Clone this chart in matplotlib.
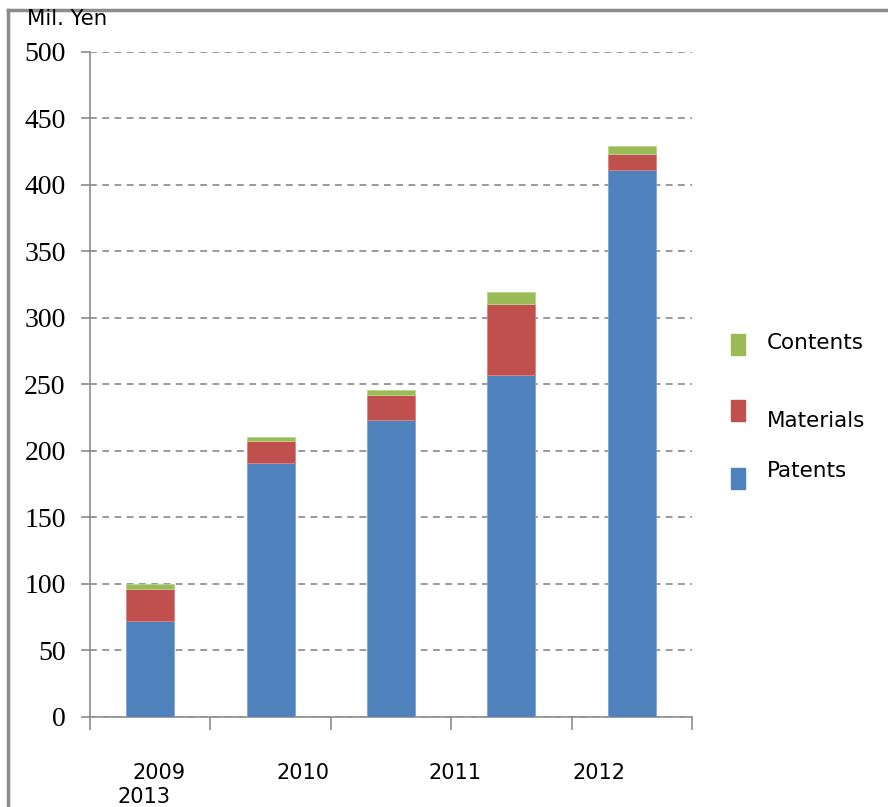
import numpy as np
import matplotlib.pyplot as plt
from matplotlib.patches import Rectangle
from matplotlib.lines import Line2D

# ── data (Mil. Yen) ─────────────────────────────────────────────
years     = ["2009", "2010", "2011", "2012", "2013"]
patents   = [72, 191, 223, 257, 411]
materials = [24, 16, 19, 53, 12]
contents  = [4, 3, 4, 9, 6]

C_PAT = "#4F81BD"
C_MAT = "#C0504D"
C_CON = "#9BBB59"
GRAY  = "#8c8c8c"

fig = plt.figure(figsize=(8.88, 8.07), dpi=100)
ax = fig.add_axes([90 / 888, 1 - 717 / 807, 602 / 888, (717 - 51.5) / 807])

x = np.arange(len(years))
pat = np.array(patents)
mat = np.array(materials)
con = np.array(contents)

ax.bar(x, pat, width=0.4, color=C_PAT, edgecolor="#7ea3d3", linewidth=0.6, zorder=3)
ax.bar(x, mat, width=0.4, bottom=pat, color=C_MAT, edgecolor="#d98380", linewidth=0.6, zorder=3)
ax.bar(x, con, width=0.4, bottom=pat + mat, color=C_CON, edgecolor="#bcd48e", linewidth=0.6, zorder=3)

ax.set_xlim(-0.5, len(years) - 0.5)
ax.set_ylim(0, 500)
ax.set_yticks(np.arange(0, 501, 50))
ax.set_xticks(np.arange(-0.5, len(years), 1.0))
ax.set_xticklabels([])

ax.yaxis.grid(True, linestyle=(0, (3.5, 2.8)), color="#9a9a9a", linewidth=1.4, zorder=0)
ax.set_axisbelow(True)

for s in ["top", "right"]:
    ax.spines[s].set_visible(False)
for s in ["left", "bottom"]:
    ax.spines[s].set_color(GRAY)
    ax.spines[s].set_linewidth(1.2)

ax.tick_params(axis="y", direction="out", length=6.5, width=1.2, color=GRAY, pad=11,
               labelsize=20)
ax.tick_params(axis="x", direction="out", length=9.5, width=1.2, color=GRAY)
for lab in ax.get_yticklabels():
    lab.set_family("Liberation Serif")

# year labels under the axis
ylab_pos = [(159, 773), (303, 773), (455, 773), (599, 773), (144, 797)]
for yr, (px, py) in zip(years, ylab_pos):
    fig.text(px / 888, 1 - py / 807, yr, ha="center", va="center", fontsize=15,
             family="DejaVu Sans")

fig.text(27 / 888, 1 - 19 / 807, "Mil. Yen", ha="left", va="center", fontsize=15.3,
         family="DejaVu Sans")

# legend keys
legend = [("Contents", C_CON, 334, 343), ("Materials", C_MAT, 400, 421),
          ("Patents", C_PAT, 468, 471)]
for name, col, top, ty in legend:
    fig.patches.append(Rectangle((731 / 888, 1 - (top + 21) / 807), 14 / 888, 21 / 807,
                                 transform=fig.transFigure, color=col))
    fig.text(767 / 888, 1 - ty / 807, name, ha="left", va="center", fontsize=15.5,
             family="DejaVu Sans")

# outer frame
fig.add_artist(Line2D([8 / 888, 1], [1 - 10 / 807] * 2, transform=fig.transFigure,
                      color=GRAY, linewidth=2.5))
fig.add_artist(Line2D([8 / 888] * 2, [0, 1 - 10 / 807], transform=fig.transFigure,
                      color=GRAY, linewidth=2.5))

plt.savefig("out.png", dpi=100)
plt.close()
